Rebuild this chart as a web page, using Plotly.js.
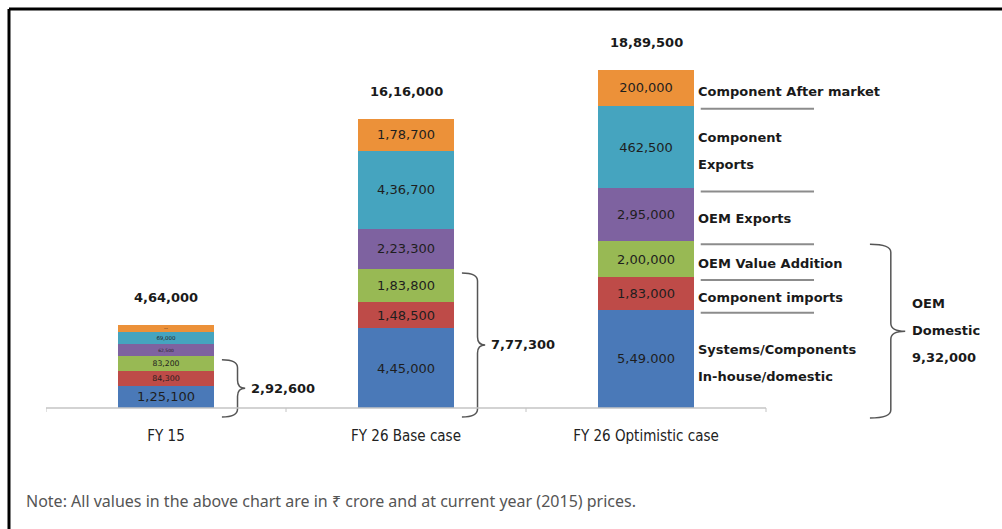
<!DOCTYPE html>
<html>
<head>
<meta charset="utf-8">
<script src="https://cdn.plot.ly/plotly-3.0.1.min.js"></script>
<style>html,body{margin:0;padding:0;background:#fff;}#chart{width:1002px;height:529px;}</style>
</head>
<body>
<div id="chart"></div>
<script>
// ---------- DATA ----------
const categories = ["FY 15", "FY 26 Base case", "FY 26 Optimistic case"];
const seriesNames = ["Systems/Components In-house/domestic", "Component imports", "OEM Value Addition", "OEM Exports", "Component Exports", "Component After market"];
const systemsDomestic   = [125100, 445000, 549000];
const componentImports  = [84300, 148500, 183000];
const oemValueAddition  = [83200, 183800, 200000];
const oemExports        = [62500, 223300, 295000];
const componentExports  = [69000, 436700, 462500];
const componentAfterMkt = [39900, 178700, 200000];
// labels exactly as printed on the bars
const systemsDomesticLbl   = ["1,25,100", "4,45,000", "5,49.000"];
const componentImportsLbl  = ["84,300", "1,48,500", "1,83,000"];
const oemValueAdditionLbl  = ["83,200", "1,83,800", "2,00,000"];
const oemExportsLbl        = ["62,500", "2,23,300", "2,95,000"];
const componentExportsLbl  = ["69,000", "4,36,700", "462,500"];
const componentAfterMktLbl = ["39,900", "1,78,700", "200,000"];
// right-hand legend labels (lines)
const legendLines = [["Systems/Components", "In-house/domestic"], ["Component imports"], ["OEM Value Addition"], ["OEM Exports"], ["Component", "Exports"], ["Component After market"]];
const bracketTitle = ["OEM", "Domestic"];
const noteText = "Note: All values in the above chart are in \u20b9 crore and at current year (2015) prices.";

// ---------- HELPERS ----------
function indian(n) {
  const s = String(Math.round(n));
  if (s.length <= 3) return s;
  const last3 = s.slice(-3);
  let rest = s.slice(0, -3);
  const parts = [];
  while (rest.length > 2) { parts.unshift(rest.slice(-2)); rest = rest.slice(0, -2); }
  if (rest.length) parts.unshift(rest);
  return parts.join(",") + "," + last3;
}
const stack = [systemsDomestic, componentImports, oemValueAddition, oemExports, componentExports, componentAfterMkt];
const stackLbl = [systemsDomesticLbl, componentImportsLbl, oemValueAdditionLbl, oemExportsLbl, componentExportsLbl, componentAfterMktLbl];
const colors = ["#4A79B8", "#BE4B48", "#98B954", "#7E62A0", "#45A4BF", "#EC9139"];
const xs = categories.map((_, i) => i);
const totals = xs.map(i => stack.reduce((a, s) => a + s[i], 0));
const domestic = xs.map(i => systemsDomestic[i] + componentImports[i] + oemValueAddition[i]);

const BAR_W = 0.4;
const Y_MIN = -95000, Y_MAX = 2057000;
const PX = (Y_MAX - Y_MIN) / 385; // data units per pixel
const fontBar = "DejaVu Sans, Verdana, sans-serif";
const fontBold = "DejaVu Sans, Verdana, sans-serif";

const traces = stack.map((s, k) => ({
  type: "bar", x: xs, y: s, name: seriesNames[k], width: BAR_W,
  marker: { color: colors[k], line: { width: 0 } },
  text: stackLbl[k], textposition: "inside", insidetextanchor: "middle",
  textangle: 0, textfont: { family: fontBar, size: 13, color: "#1e1e1e" },
  hoverinfo: "skip"
}));

const annotations = [];
const shapes = [];
// totals above bars
xs.forEach(i => annotations.push({
  x: i, y: totals[i], xref: "x", yref: "y", text: "<b>" + indian(totals[i]) + "</b>",
  showarrow: false, yshift: 27, font: { family: fontBold, size: 13, color: "#1a1a1a" }
}));

// curly brace path
function brace(xl, xv, xt, ytop, ybot) {
  const ry = 8 * PX, ym = (ytop + ybot) / 2;
  return `M ${xl},${ytop} Q ${xv},${ytop} ${xv},${ytop - ry} L ${xv},${ym + ry} Q ${xv},${ym} ${xt},${ym} ` +
         `Q ${xv},${ym} ${xv},${ym - ry} L ${xv},${ybot + ry} Q ${xv},${ybot} ${xl},${ybot}`;
}
const braceBottom = -9 * PX;
// domestic brackets for first two bars
[0, 1].forEach(i => {
  shapes.push({ type: "path", xref: "x", yref: "y", path: brace(i + 0.233, i + 0.298, i + 0.33, domestic[i] - 4 * PX, braceBottom),
    line: { color: "#555", width: 1.5 } });
  annotations.push({ x: i + 0.33, y: (domestic[i] - 4 * PX + braceBottom) / 2, xref: "x", yref: "y", xanchor: "left",
    xshift: 4, text: "<b>" + indian(domestic[i]) + "</b>", showarrow: false,
    font: { family: fontBold, size: 13, color: "#1a1a1a" } });
});
// optimistic bracket
shapes.push({ type: "path", xref: "x", yref: "y", path: brace(2.933, 3.02, 3.08, domestic[2] - 3 * PX, braceBottom - 1 * PX),
  line: { color: "#555", width: 1.5 } });
const bm = (domestic[2] - 3 * PX + braceBottom) / 2;
[bracketTitle[0], bracketTitle[1], indian(domestic[2])].forEach((t, j) => annotations.push({
  x: 3.1, y: bm, xref: "x", yref: "y", xanchor: "left", yshift: 27 - 27 * j,
  text: "<b>" + t + "</b>", showarrow: false, font: { family: fontBold, size: 13, color: "#1a1a1a" }
}));

// right-hand labels and separators for the optimistic bar
let cum = 0;
stack.forEach((s, k) => {
  const lo = cum, hi = cum + s[2];
  cum = hi;
  const mid = (lo + hi) / 2;
  const lines = legendLines[k];
  lines.forEach((t, j) => annotations.push({
    x: 2 + BAR_W / 2, y: mid, xref: "x", yref: "y", xanchor: "left", xshift: 2,
    yshift: (lines.length - 1) * 13.5 - 27 * j - 4,
    text: "<b>" + t + "</b>", showarrow: false, font: { family: fontBold, size: 13, color: "#1a1a1a" }
  }));
  if (k > 0) shapes.push({ type: "line", xref: "x", yref: "y", x0: 2.228, x1: 2.70, y0: lo - 3 * PX, y1: lo - 3 * PX,
    line: { color: "#8c8c8c", width: 2 } });
});

// axis baseline and ticks
shapes.push({ type: "line", xref: "x", yref: "y", x0: -0.5, x1: 2.5, y0: 0, y1: 0, line: { color: "#c4c4c4", width: 1.5 } });
[-0.5, 0.5, 1.5, 2.5].forEach(t => shapes.push({ type: "line", xref: "x", yref: "y", x0: t, x1: t, y0: 0, y1: -4 * PX,
  line: { color: "#c4c4c4", width: 1 } }));

// frame (top + left)
shapes.push({ type: "line", xref: "paper", yref: "paper", x0: -0.0392, x1: 1.02, y0: 1.0805, y1: 1.0805, line: { color: "#000", width: 3 } });
shapes.push({ type: "line", xref: "paper", yref: "paper", x0: -0.0392, x1: -0.0392, y0: 1.0805, y1: -0.3, line: { color: "#000", width: 3 } });

// note
annotations.push({ xref: "paper", yref: "paper", x: -22 / 944, y: (425 - 501) / 385, xanchor: "left", yanchor: "middle",
  text: noteText, showarrow: false, font: { family: "Noto Sans, Open Sans, sans-serif", size: 16, color: "#555" } });

const layout = {
  width: 1002, height: 529,
  margin: { l: 46, r: 12, t: 40, b: 104, pad: 0 },
  paper_bgcolor: "#fff", plot_bgcolor: "#fff",
  barmode: "stack", showlegend: false,
  xaxis: { range: [-0.5, 3.4333], tickvals: xs, ticktext: categories, showgrid: false, zeroline: false, showline: false,
    ticks: "", tickfont: { family: "Liberation Sans Narrow, DejaVu Sans Condensed, sans-serif", size: 15, color: "#222" }, fixedrange: true },
  yaxis: { range: [Y_MIN, Y_MAX], visible: false, fixedrange: true },
  annotations: annotations, shapes: shapes
};
Plotly.newPlot("chart", traces, layout, { staticPlot: true, displayModeBar: false });
</script>
</body>
</html>
